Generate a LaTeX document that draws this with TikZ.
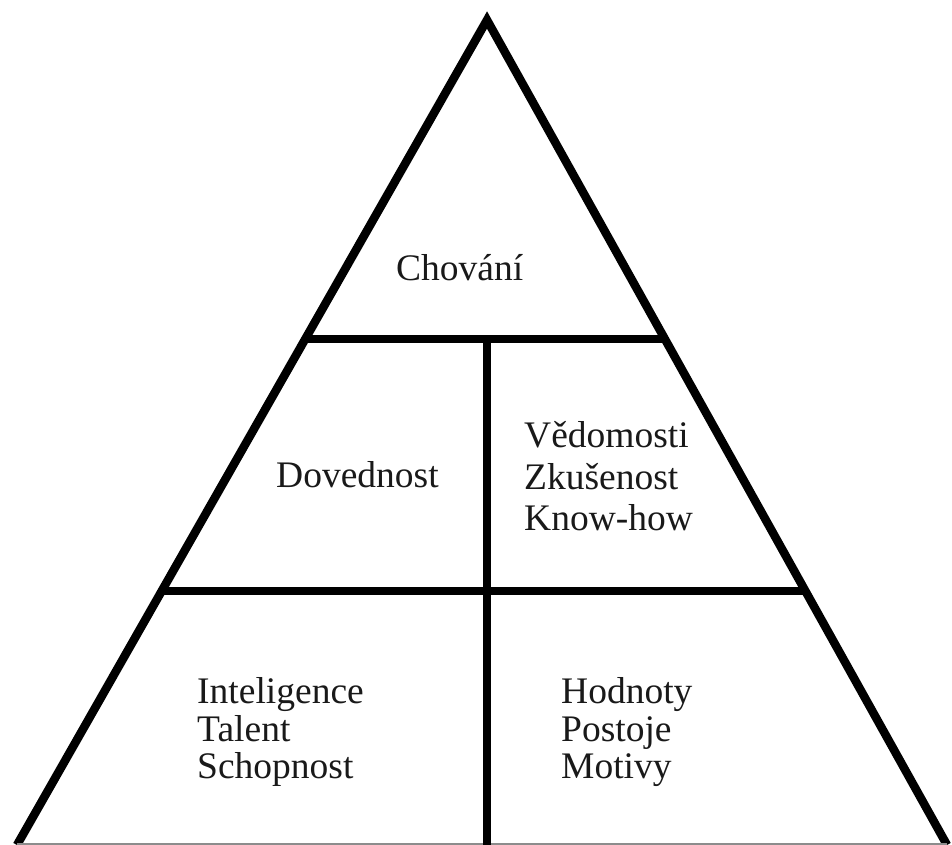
\documentclass[tikz,border=0pt]{standalone}
\usepackage{fontspec}
\setmainfont{Liberation Serif}
\usetikzlibrary{calc}
\begin{document}
\begin{tikzpicture}[x=1pt,y=-1pt,
  edge/.style={line width=8.5pt,line join=miter,black},
  lbl/.style={font=\fontsize{37.5}{41}\selectfont,inner sep=0pt,anchor=base west,text=black!90}]
\useasboundingbox (0,0) rectangle (952,845);
\coordinate (apex) at (487,20);
\coordinate (bl) at (17,845);
\coordinate (br) at (947,845);
\coordinate (l1) at ($(apex)!0.3867!(bl)$);
\coordinate (r1) at ($(apex)!0.3867!(br)$);
\coordinate (l2) at ($(apex)!0.6921!(bl)$);
\coordinate (r2) at ($(apex)!0.6921!(br)$);
\coordinate (m1) at (l1 -| apex);
\coordinate (mb) at ($(bl)!(apex)!(br)$);
\draw[edge] (bl) -- (apex) -- (br);
\draw[edge,black!45,line width=2pt] ($(bl)+(0,-1)$) -- ($(br)+(0,-1)$);
\draw[edge] (l1) -- (r1);
\draw[edge] (l2) -- (r2);
\draw[edge] (m1) -- ($(mb)+(0,5)$);
\node[lbl] (chovani) at (396,280) {Chování};
\node[lbl] (dovednost) at (276,487) {Dovednost};
\node[lbl] (vedomosti) at (524,447) {Vědomosti};
\node[lbl] (zkusenost) at (524,489) {Zkušenost};
\node[lbl] (knowhow) at (524,530) {Know-how};
\node[lbl] (inteligence) at (197,703) {Inteligence};
\node[lbl] (talent) at (197,741) {Talent};
\node[lbl] (schopnost) at (197,778) {Schopnost};
\node[lbl] (hodnoty) at (561,703) {Hodnoty};
\node[lbl] (postoje) at (561,741) {Postoje};
\node[lbl] (motivy) at (561,778) {Motivy};
\end{tikzpicture}
\end{document}
